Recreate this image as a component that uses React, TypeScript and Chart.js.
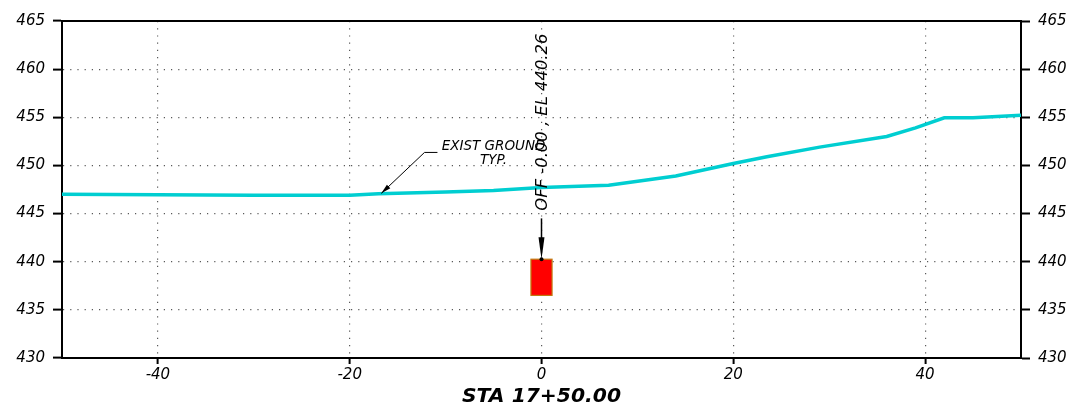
import React, { useEffect, useRef } from 'react';
import { Chart, registerables } from 'chart.js';

Chart.register(...registerables);

// Ground profile (offset ft, elevation ft)
const offsets = [-50, -40, -30, -20, -17, -10, -5, 0, 7, 14, 20, 23.5, 29, 36, 39, 42, 45, 50];
const elevations = [447.0, 446.95, 446.9, 446.9, 447.05, 447.25, 447.4, 447.7, 447.95, 448.9, 450.2, 450.9, 451.9, 453.0, 453.9, 454.95, 454.95, 455.2];

const xTickValues = [-40, -20, 0, 20, 40];
const yTickValues = [430, 435, 440, 445, 450, 455, 460, 465];

// Pipe (offset range, elevation range)
const pipeOffsets = [-1.1, 1.1];
const pipeElevations = [436.5, 440.26];

const stationLabel = 'STA 17+50.00';
const pipeLabel = 'OFF -0.00 , EL 440.26';
const groundLabel = ['EXIST GROUND', 'TYP.'];

// annotation anchor points in data units
const pipeArrowFrom = [0, 444.5];
const pipeLabelAt = [0, 445.3];
const groundLabelAt = [-5, 451.98, 450.52];
const leaderPts = [
  [-10.85, 451.35],
  [-12.2, 451.35],
  [-16.7, 447.1],
];

const FONT = 'DejaVu Sans';
const dotColor = 'rgba(0,0,0,0.65)';

const annotationPlugin = {
  id: 'profileAnnotations',
  afterDatasetsDraw(chart: any) {
    const { ctx, chartArea } = chart;
    const xs = chart.scales.x;
    const ys = chart.scales.y;
    const px = (v: number) => xs.getPixelForValue(v);
    const py = (v: number) => ys.getPixelForValue(v);
    ctx.save();

    // top border
    ctx.strokeStyle = '#000';
    ctx.lineWidth = 2;
    ctx.beginPath();
    ctx.moveTo(chartArea.left - 1, chartArea.top);
    ctx.lineTo(chartArea.right + 1, chartArea.top);
    ctx.stroke();

    // pipe box
    const x0 = px(pipeOffsets[0]);
    const x1 = px(pipeOffsets[1]);
    const yTop = py(pipeElevations[1]);
    const yBot = py(pipeElevations[0]);
    ctx.fillStyle = '#ff0000';
    ctx.fillRect(x0, yTop, x1 - x0, yBot - yTop);
    ctx.strokeStyle = '#c07a10';
    ctx.lineWidth = 1.2;
    ctx.strokeRect(x0, yTop, x1 - x0, yBot - yTop);

    // arrow to pipe
    const ax = px(pipeArrowFrom[0]);
    const ay0 = py(pipeArrowFrom[1]);
    const ay1 = yTop;
    ctx.strokeStyle = '#000';
    ctx.fillStyle = '#000';
    ctx.lineWidth = 1.5;
    ctx.beginPath();
    ctx.moveTo(ax, ay0);
    ctx.lineTo(ax, ay1 - 10);
    ctx.stroke();
    ctx.beginPath();
    ctx.moveTo(ax, ay1);
    ctx.lineTo(ax - 3, ay1 - 22);
    ctx.lineTo(ax + 3, ay1 - 22);
    ctx.closePath();
    ctx.fill();
    ctx.beginPath();
    ctx.arc(ax, ay1, 2, 0, Math.PI * 2);
    ctx.fill();

    // rotated pipe label
    ctx.save();
    ctx.translate(px(pipeLabelAt[0]) + 5.5, py(pipeLabelAt[1]));
    ctx.rotate(-Math.PI / 2);
    ctx.font = `italic 16.4px '${FONT}'`;
    ctx.textAlign = 'left';
    ctx.textBaseline = 'alphabetic';
    ctx.fillStyle = '#000';
    ctx.fillText(pipeLabel, 0, 0);
    ctx.restore();

    // ground label
    ctx.font = `italic 13.5px '${FONT}'`;
    ctx.textAlign = 'center';
    ctx.textBaseline = 'middle';
    ctx.fillStyle = '#000';
    ctx.fillText(groundLabel[0], px(groundLabelAt[0]), py(groundLabelAt[1]));
    ctx.fillText(groundLabel[1], px(groundLabelAt[0]), py(groundLabelAt[2]));

    // leader
    ctx.lineWidth = 1;
    ctx.strokeStyle = '#000';
    ctx.beginPath();
    leaderPts.forEach((p, i) => {
      const X = px(p[0]);
      const Y = py(p[1]);
      if (i === 0) ctx.moveTo(X, Y);
      else ctx.lineTo(X, Y);
    });
    ctx.stroke();
    const a = leaderPts[1];
    const b = leaderPts[2];
    const bx = px(b[0]);
    const by = py(b[1]);
    const ang = Math.atan2(by - py(a[1]), bx - px(a[0]));
    const L = 10;
    const W = 2.5;
    ctx.beginPath();
    ctx.moveTo(bx, by);
    ctx.lineTo(bx - L * Math.cos(ang) - W * Math.sin(ang), by - L * Math.sin(ang) + W * Math.cos(ang));
    ctx.lineTo(bx - L * Math.cos(ang) + W * Math.sin(ang), by - L * Math.sin(ang) - W * Math.cos(ang));
    ctx.closePath();
    ctx.fill();

    ctx.restore();
  },
};

export default function App() {
  const ref = useRef<HTMLCanvasElement>(null);

  useEffect(() => {
    document.body.style.margin = '0';
    const tickFont = { family: FONT, size: 15, style: 'italic' as const };
    const chart = new Chart(ref.current!, {
      type: 'line',
      data: {
        datasets: [
          {
            label: 'Existing Ground',
            data: offsets.map((x, i) => ({ x, y: elevations[i] })),
            borderColor: '#00CED1',
            borderWidth: 3.5,
            pointRadius: 0,
            tension: 0,
            fill: false,
          },
        ],
      },
      options: {
        responsive: false,
        animation: false,
        layout: { padding: { top: 21, left: 0, right: 0, bottom: 0 } },
        plugins: {
          legend: { display: false },
          tooltip: { enabled: false },
        },
        scales: {
          x: {
            type: 'linear',
            position: 'bottom',
            min: -50,
            max: 50,
            afterBuildTicks: (axis: any) => {
              axis.ticks = xTickValues.map((v) => ({ value: v }));
            },
            afterFit: (axis: any) => {
              axis.height = 56;
            },
            grid: {
              color: dotColor,
              lineWidth: 1.2,
              tickLength: 6,
              tickColor: '#000',
              tickWidth: 2,
            },
            border: { color: '#000', width: 2, dash: [1.2, 6] },
            ticks: {
              font: tickFont,
              color: '#000',
              padding: 2,
              maxRotation: 0,
              autoSkip: false,
              callback: (v: any) => String(v),
            },
            title: {
              display: true,
              text: stationLabel,
              color: '#000',
              font: { family: FONT, size: 20.3, style: 'italic', weight: 'bold' },
              padding: { top: 0, bottom: 5 },
            },
          },
          y: {
            type: 'linear',
            position: 'left',
            min: 430,
            max: 465,
            afterBuildTicks: (axis: any) => {
              axis.ticks = yTickValues.map((v) => ({ value: v }));
            },
            afterFit: (axis: any) => {
              axis.width = 62;
            },
            grid: {
              color: dotColor,
              lineWidth: 1.2,
              tickLength: 9,
              tickColor: '#000',
              tickWidth: 2,
            },
            border: { color: '#000', width: 2, dash: [1.2, 6] },
            ticks: { font: tickFont, color: '#000', padding: 8 },
          },
          y2: {
            type: 'linear',
            position: 'right',
            min: 430,
            max: 465,
            afterBuildTicks: (axis: any) => {
              axis.ticks = yTickValues.map((v) => ({ value: v }));
            },
            afterFit: (axis: any) => {
              axis.width = 58;
            },
            grid: {
              drawOnChartArea: false,
              tickLength: 9,
              tickColor: '#000',
              tickWidth: 2,
            },
            border: { color: '#000', width: 2 },
            ticks: { font: tickFont, color: '#000', padding: 8 },
          },
        },
      },
      plugins: [annotationPlugin],
    } as any);
    return () => chart.destroy();
  }, []);

  return (
    <div style={{ width: 1079, height: 414 }}>
      <canvas ref={ref} width={1079} height={414} style={{ display: 'block', width: 1079, height: 414 }} />
    </div>
  );
}
